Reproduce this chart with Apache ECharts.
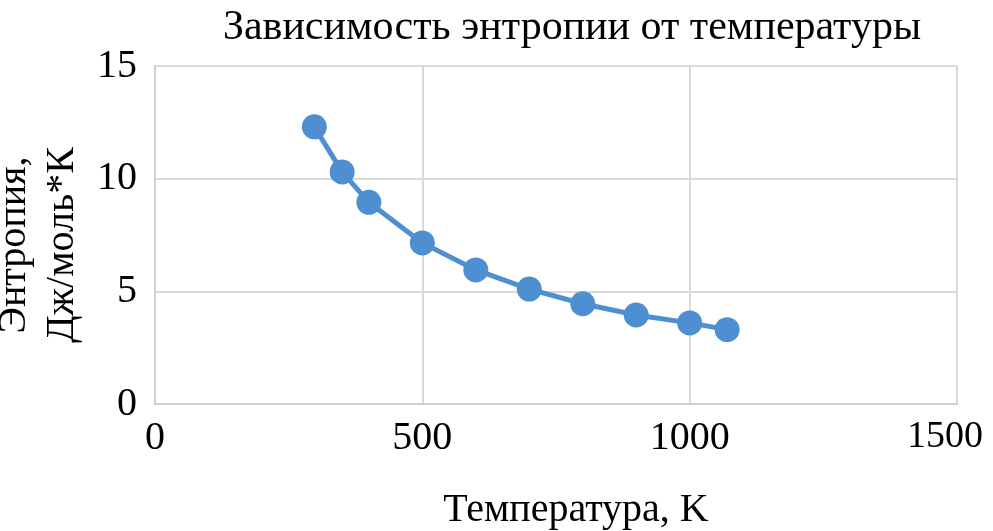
<!DOCTYPE html>
<html>
<head>
<meta charset="utf-8">
<script src="https://cdn.jsdelivr.net/npm/echarts@6/dist/echarts.min.js"></script>
<style>html,body{margin:0;padding:0;background:#fff}#c{width:993px;height:531px}</style>
</head>
<body>
<div id="c"></div>
<script>
const temperatures = [298, 350, 400, 500, 600, 700, 800, 900, 1000, 1070];
const entropy = [12.3, 10.3, 8.95, 7.15, 5.95, 5.1, 4.45, 3.95, 3.6, 3.3];
const titleText = 'Зависимость энтропии от температуры';
const xName = 'Температура, K';
const yName = 'Энтропия,\nДж/моль*К';

const font = '"Liberation Serif", "Times New Roman", serif';
const chart = echarts.init(document.getElementById('c'));
chart.setOption({
  animation: false,
  backgroundColor: '#fff',
  title: {
    text: titleText, left: 567, top: 2, textAlign: 'center',
    textStyle: {fontFamily: font, fontSize: 42, fontWeight: 'normal', color: '#000'}
  },
  grid: {left: 155, right: 36, top: 66, bottom: 127, containLabel: false, outerBoundsMode: 'none'},
  xAxis: {
    type: 'value', min: 0, max: 1500, interval: 500,
    name: xName, nameLocation: 'middle', nameGap: 86,
    nameTextStyle: {fontFamily: font, fontSize: 40, color: '#000', padding: [0, 0, 0, 40]},
    axisLine: {show: true, lineStyle: {color: '#cfcfcf', width: 2}},
    axisTick: {show: false},
    axisLabel: {
      fontFamily: font, fontSize: 40, color: '#000', margin: 14,
      formatter: v => v === 1500 ? '{r|' + v + '}' : String(v),
      rich: {r: {fontFamily: font, fontSize: 38, color: '#000', padding: [0, 24, 0, 0]}}
    },
    splitLine: {show: true, lineStyle: {color: '#d9d9d9', width: 2}}
  },
  yAxis: {
    type: 'value', min: 0, max: 15, interval: 5,
    name: yName, nameLocation: 'middle', nameGap: 68, nameRotate: 90,
    nameTextStyle: {fontFamily: font, fontSize: 40, color: '#000', lineHeight: 48, padding: [0, 20, 0, 0]},
    axisLine: {show: true, lineStyle: {color: '#cfcfcf', width: 2}},
    axisTick: {show: false},
    axisLabel: {fontFamily: font, fontSize: 40, color: '#000', margin: 18, formatter: v => String(v)},
    splitLine: {show: true, lineStyle: {color: '#d9d9d9', width: 2}}
  },
  series: [{
    type: 'line',
    data: temperatures.map((t, i) => [t, entropy[i]]),
    symbol: 'circle', symbolSize: 25,
    lineStyle: {color: '#4e8fd1', width: 5},
    itemStyle: {color: '#4e8fd1'}
  }]
});
</script>
</body>
</html>
